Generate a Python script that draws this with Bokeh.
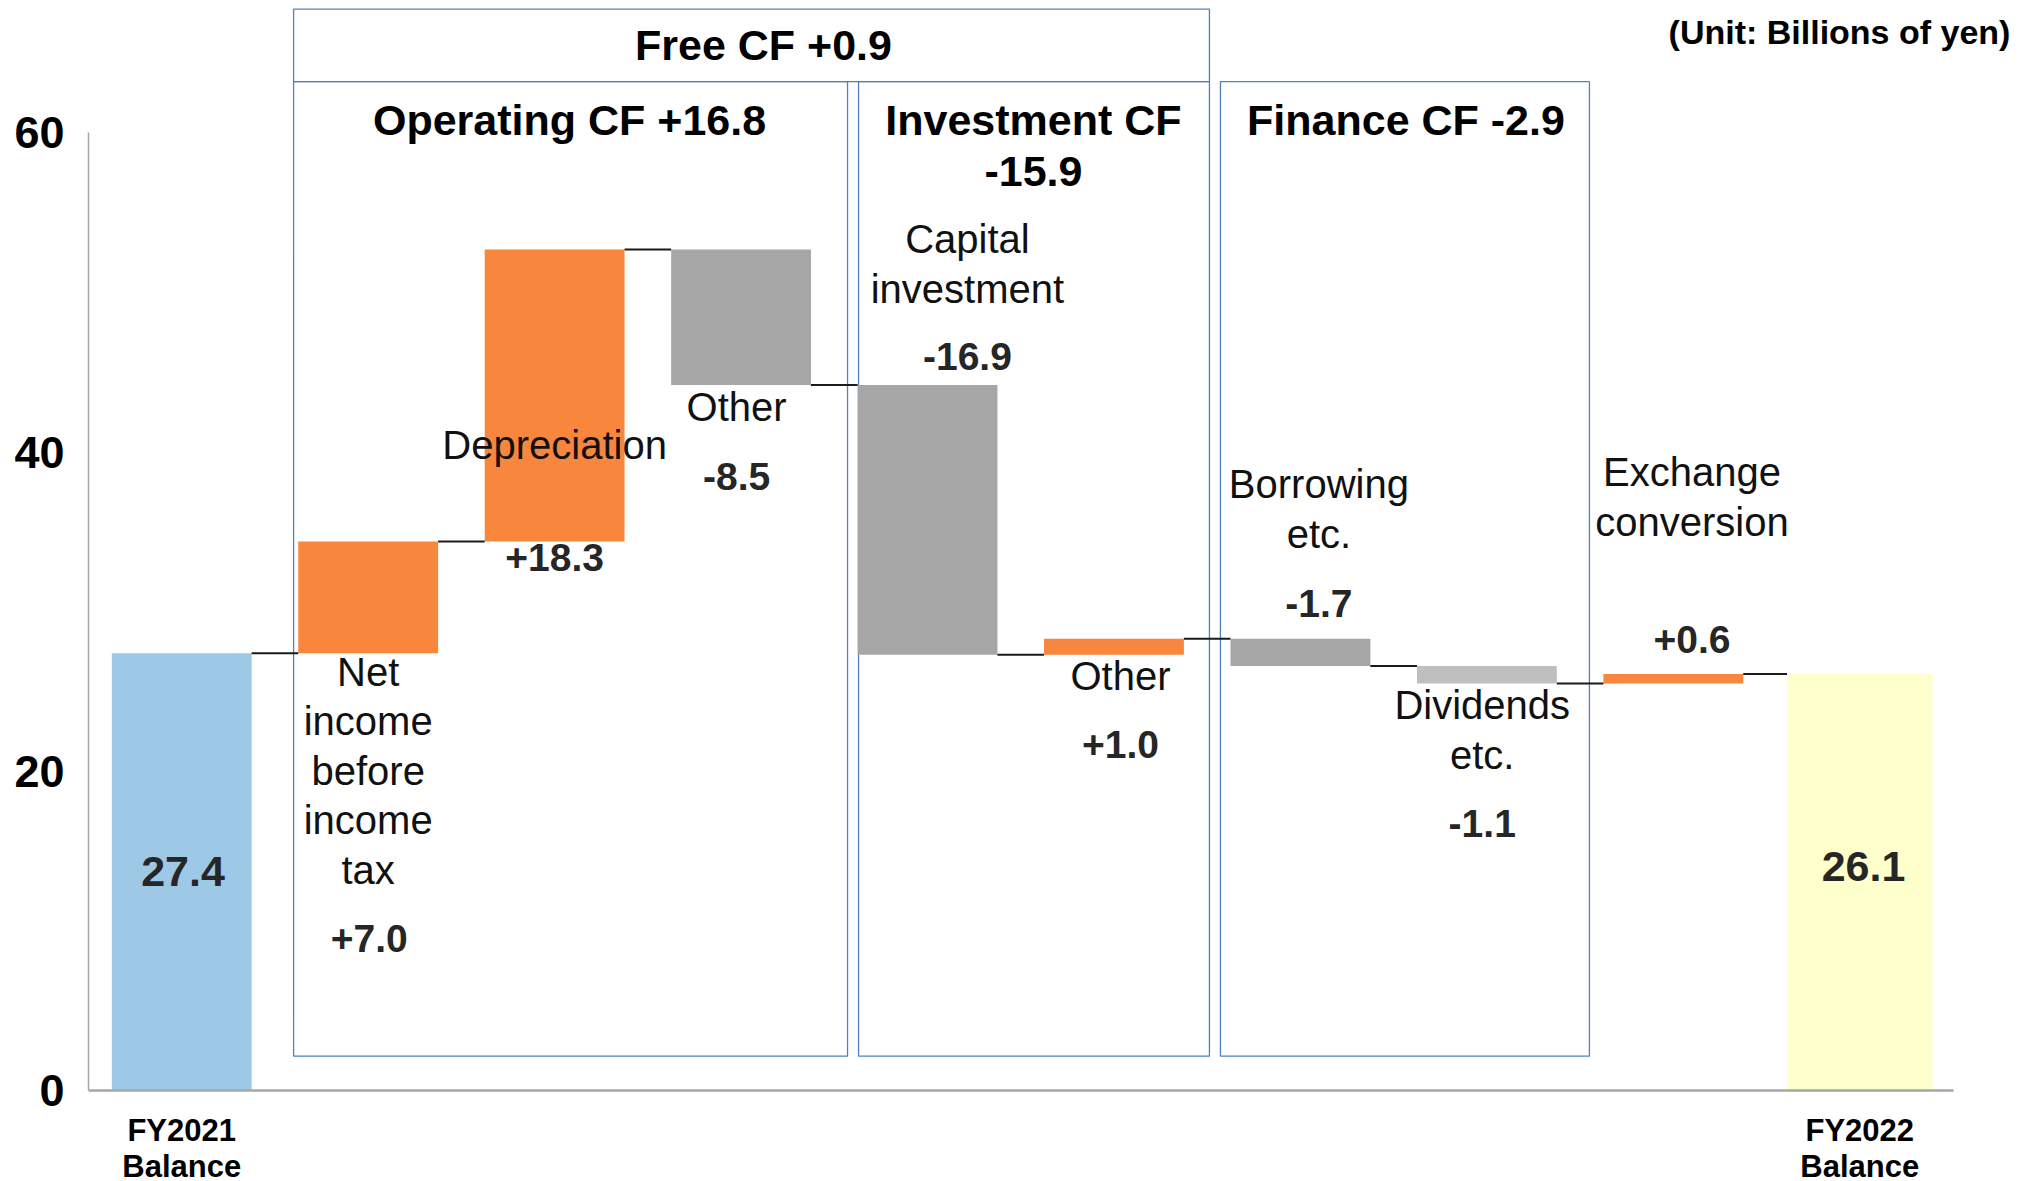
from bokeh.plotting import figure
from bokeh.models import Range1d, FixedTicker
from bokeh.embed import file_html
from bokeh.resources import INLINE
from bokeh.core.properties import value

# ---------------- data ----------------
categories = ["FY2021\nBalance", "Net income before income tax", "Depreciation", "Other",
              "Capital investment", "Other", "Borrowing etc.", "Dividends etc.",
              "Exchange conversion", "FY2022\nBalance"]
start_balance = 27.4
changes = [7.0, 18.3, -8.5, -16.9, 1.0, -1.7, -1.1, 0.6]
end_balance = 26.1
value_texts = ["27.4", "+7.0", "+18.3", "-8.5", "-16.9", "+1.0", "-1.7", "-1.1", "+0.6", "26.1"]
name_lines = [None, ["Net", "income", "before", "income", "tax"], ["Depreciation"], ["Other"],
              ["Capital", "investment"], ["Other"], ["Borrowing", "etc."], ["Dividends", "etc."],
              ["Exchange", "conversion"], None]
section_titles = [["Free CF +0.9"], ["Operating CF +16.8"], ["Investment CF", "-15.9"], ["Finance CF -2.9"]]
unit_text = "(Unit: Billions of yen)"
y_ticks = [0, 20, 40, 60]

# ---------------- layout / style ----------------
FONT = "Liberation Sans"
PX_PER_UNIT = 15.96
LINE_GAP = 49.5 / PX_PER_UNIT
bar_colors = ["#9DC8E6", "#F8863C", "#F8863C", "#A6A6A6", "#A6A6A6", "#F8863C",
              "#A6A6A6", "#BFBFBF", "#F8863C", "#FFFFCC"]
bar_widths = [0.75] * 9 + [0.78]
name_pos = [None, (1.0, 26.23), (2.0, 40.44), (2.976, 42.80), (4.214, 53.34), (5.035, 25.99),
            (6.099, 38.00), (6.975, 24.14), (8.10, 38.73), None]
value_pos = [(0.007, 13.74), (1.006, 9.505), (2.0, 33.38), (2.976, 38.48), (4.214, 45.96),
             (5.035, 21.70), (6.099, 30.53), (6.975, 16.75), (8.10, 28.27), (9.02, 14.06)]
value_sizes = ["43px"] + ["39px"] * 8 + ["43px"]
section_pos = [(3.12, 65.53), (2.08, 60.81), (4.568, 60.81), (6.566, 60.81)]
boxes = [(0.60, 5.512, 67.75, 63.21), (0.60, 3.571, 63.21, 2.16),
         (3.63, 5.512, 63.21, 2.16), (5.571, 7.55, 63.21, 2.16)]

# ---------------- derived ----------------
levels = [start_balance]
for c in changes:
    levels.append(round(levels[-1] + c, 1))
xs = list(range(len(categories)))
bottoms = [0.0] + [min(levels[i], levels[i + 1]) for i in range(len(changes))] + [0.0]
tops = [start_balance] + [max(levels[i], levels[i + 1]) for i in range(len(changes))] + [end_balance]

FRAME_W, FRAME_H = 1945, 1090
p = figure(frame_width=FRAME_W, frame_height=FRAME_H,
           x_range=Range1d(-0.5, -0.5 + FRAME_W / 186.45), y_range=Range1d(0, FRAME_H / PX_PER_UNIT),
           output_backend="svg", toolbar_location=None,
           min_border_left=88, min_border_right=0, min_border_top=0, min_border_bottom=91)
p.outline_line_color = None
p.grid.visible = False
p.background_fill_color = "white"

# section boxes
p.quad(left=[b[0] for b in boxes], right=[b[1] for b in boxes], top=[b[2] for b in boxes],
       bottom=[b[3] for b in boxes], fill_color=None, line_color="#4F81BD", line_width=1.3)

# bars
p.vbar(x=xs, bottom=bottoms, top=tops, width=bar_widths, fill_color=bar_colors, line_color=None)

# connectors
cx0 = [xs[i] + bar_widths[i] / 2 for i in range(len(xs) - 1)]
cx1 = [xs[i + 1] - bar_widths[i + 1] / 2 for i in range(len(xs) - 1)]
cy = levels
p.segment(x0=cx0, x1=cx1, y0=cy, y1=cy, line_color="#1a1a1a", line_width=2)

# category name labels
tx, ty, tt = [], [], []
for pos, lines in zip(name_pos, name_lines):
    if pos is None:
        continue
    for k, ln in enumerate(lines):
        tx.append(pos[0]); ty.append(pos[1] - k * LINE_GAP); tt.append(ln)
p.text(x=tx, y=ty, text=tt, text_font=value(FONT), text_font_size="40px",
       text_align="center", text_baseline="middle", text_color="#111111")

# value labels
p.text(x=[v[0] for v in value_pos], y=[v[1] for v in value_pos], text=value_texts,
       text_font=value(FONT), text_font_size=value_sizes, text_font_style="bold",
       text_align="center", text_baseline="middle", text_color="#262626")

# section titles
sx, sy, st = [], [], []
for pos, lines in zip(section_pos, section_titles):
    for k, ln in enumerate(lines):
        sx.append(pos[0]); sy.append(pos[1] - k * 52 / PX_PER_UNIT); st.append(ln)
p.text(x=sx, y=sy, text=st, text_font=value(FONT), text_font_size="43px", text_font_style="bold",
       text_align="center", text_baseline="middle", text_color="#000000")

# unit
p.text(x=[9.808], y=[66.34], text=[unit_text], text_font=value(FONT), text_font_size="34px",
       text_font_style="bold", text_align="right", text_baseline="middle", text_color="#000000")

# axes
p.xaxis.ticker = FixedTicker(ticks=[0, 9])
p.xaxis.major_label_overrides = {0: categories[0], 9: categories[9]}
p.xaxis.bounds = (-0.5, 9.5)
p.yaxis.ticker = FixedTicker(ticks=y_ticks)
p.yaxis.bounds = (0, 60)
for ax in (p.xaxis, p.yaxis):
    ax.axis_line_color = "#A6A6A6"
    ax.major_tick_line_color = None
    ax.minor_tick_line_color = None
    ax.major_label_text_font = FONT
    ax.major_label_text_font_style = "bold"
    ax.major_label_text_color = "#000000"
p.xaxis.axis_line_width = 2.5
p.yaxis.axis_line_width = 1.5
p.xaxis.major_label_text_font_size = "31px"
p.xaxis.major_label_text_line_height = 1.04
p.xaxis.major_label_standoff = 16
p.yaxis.major_label_text_font_size = "45px"
p.yaxis.major_label_standoff = 18

open("out.html", "w").write(file_html(p, INLINE))
